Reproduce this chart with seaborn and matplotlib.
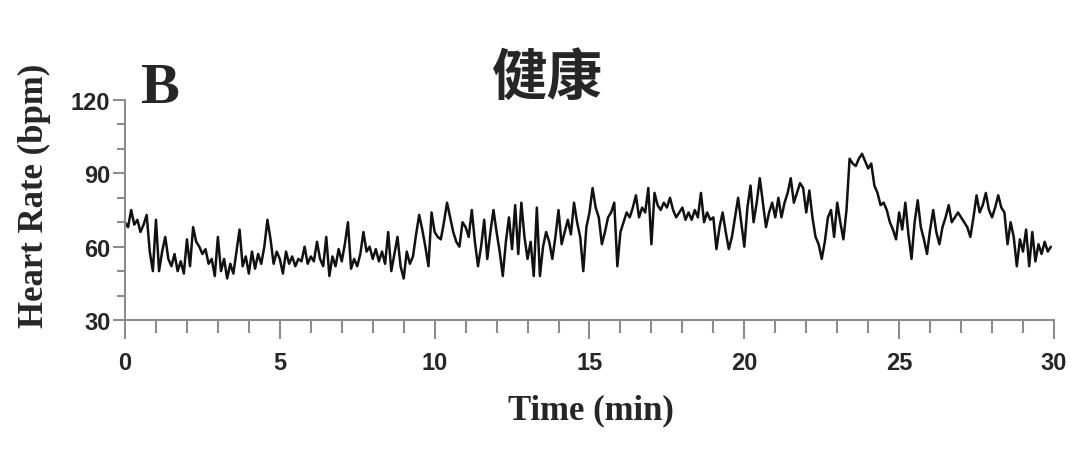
import numpy as np
import pandas as pd
import matplotlib
matplotlib.use('Agg')
import matplotlib.pyplot as plt
import seaborn as sns
from matplotlib.ticker import MultipleLocator

# heart rate, one value every 0.1 min
hr_0_5 = [70, 68, 75, 69, 71, 66, 69, 73, 58, 50,
          71, 50, 58, 64, 55, 52, 57, 50, 54, 49,
          63, 52, 68, 62, 60, 57, 59, 53, 55, 48,
          64, 50, 55, 47, 53, 49, 58, 67, 52, 56,
          49, 58, 51, 57, 53, 60, 71, 63, 53, 58]
hr_5_10 = [55, 49, 58, 53, 56, 52, 55, 54, 60, 53,
           56, 54, 62, 55, 52, 64, 48, 56, 52, 59,
           54, 61, 70, 51, 55, 52, 57, 66, 58, 60,
           55, 59, 54, 58, 53, 66, 50, 57, 64, 52,
           47, 58, 53, 56, 65, 73, 67, 60, 52, 74]
hr_10_15 = [66, 64, 63, 70, 78, 72, 66, 62, 60, 70,
            68, 64, 75, 62, 52, 60, 71, 55, 66, 75,
            66, 58, 48, 62, 72, 59, 77, 57, 78, 64,
            55, 62, 48, 76, 48, 60, 66, 62, 55, 64,
            75, 61, 66, 71, 65, 78, 70, 64, 50, 68]
hr_15_20 = [74, 84, 76, 72, 61, 66, 72, 74, 78, 52,
            66, 70, 74, 72, 76, 81, 72, 76, 74, 84,
            61, 82, 77, 75, 78, 76, 80, 75, 72, 74,
            76, 71, 74, 71, 75, 72, 82, 70, 74, 71,
            72, 59, 68, 74, 66, 59, 64, 72, 80, 70]
hr_20_25 = [60, 76, 85, 70, 78, 88, 78, 68, 74, 78,
            72, 80, 72, 78, 82, 88, 78, 82, 86, 84,
            74, 83, 72, 64, 61, 55, 62, 72, 75, 64,
            78, 70, 63, 75, 96, 94, 93, 96, 98, 95,
            92, 94, 85, 82, 77, 78, 75, 70, 67, 63]
hr_25_30 = [74, 67, 78, 65, 55, 70, 79, 68, 63, 57,
            67, 75, 66, 61, 68, 72, 77, 70, 72, 74,
            72, 70, 68, 64, 72, 81, 74, 77, 82, 75,
            72, 76, 81, 76, 74, 61, 70, 64, 52, 63,
            58, 67, 52, 66, 54, 61, 57, 62, 58, 60]

heart_rate = hr_0_5 + hr_5_10 + hr_10_15 + hr_15_20 + hr_20_25 + hr_25_30
time_min = np.arange(len(heart_rate)) / 10

x_ticks = [0, 5, 10, 15, 20, 25, 30]
y_ticks = [30, 60, 90, 120]

df = pd.DataFrame({'Time': time_min, 'HR': heart_rate})

sns.set_style('ticks')
plt.rcParams['font.family'] = ['Liberation Sans Narrow', 'Liberation Sans', 'DejaVu Sans']

fig = plt.figure(figsize=(10.84, 4.56), dpi=100)
ax = fig.add_axes([0.1153, 0.296, 0.857, 0.4825])

sns.lineplot(data=df, x='Time', y='HR', color='#111111', linewidth=1.8, ax=ax)

ax.set_xlim(0, 30)
ax.set_ylim(30, 120)
ax.set_xticks(x_ticks)
ax.set_yticks(y_ticks)
ax.xaxis.set_minor_locator(MultipleLocator(1))
ax.yaxis.set_minor_locator(MultipleLocator(10))

for s in ['top', 'right']:
    ax.spines[s].set_visible(False)
for s in ['left', 'bottom']:
    ax.spines[s].set_color('#8c8c8c')
    ax.spines[s].set_linewidth(1.5)

ax.tick_params(axis='x', which='major', length=14, width=1.5, color='#8c8c8c', pad=8,
               labelsize=17)
ax.tick_params(axis='x', which='minor', length=9.5, width=1.5, color='#8c8c8c')
ax.tick_params(axis='y', which='major', length=8.5, width=1.5, color='#8c8c8c', pad=2,
               labelsize=17)
ax.tick_params(axis='y', which='minor', length=6, width=1.5, color='#8c8c8c')
for lab in ax.get_xticklabels() + ax.get_yticklabels():
    lab.set_fontweight('bold')

ax.set_xlabel('')
ax.set_ylabel('')
fig.text(0.545, 0.100, 'Time (min)', family='Liberation Serif', fontweight='bold',
         fontsize=25, ha='center', va='center')
fig.text(0.032, 0.570, 'Heart Rate (bpm)', family='Liberation Serif', fontweight='bold',
         fontsize=25, rotation=90, ha='center', va='center')
fig.text(0.129, 0.774, 'B', family='Liberation Serif', fontweight='bold',
         fontsize=42, ha='left', va='baseline')
fig.text(0.505, 0.826, '健康', family=['Noto Sans CJK SC', 'DejaVu Sans'],
         fontweight='heavy', fontsize=40, ha='center', va='center')

fig.savefig('out.png', dpi=100, facecolor='white')
